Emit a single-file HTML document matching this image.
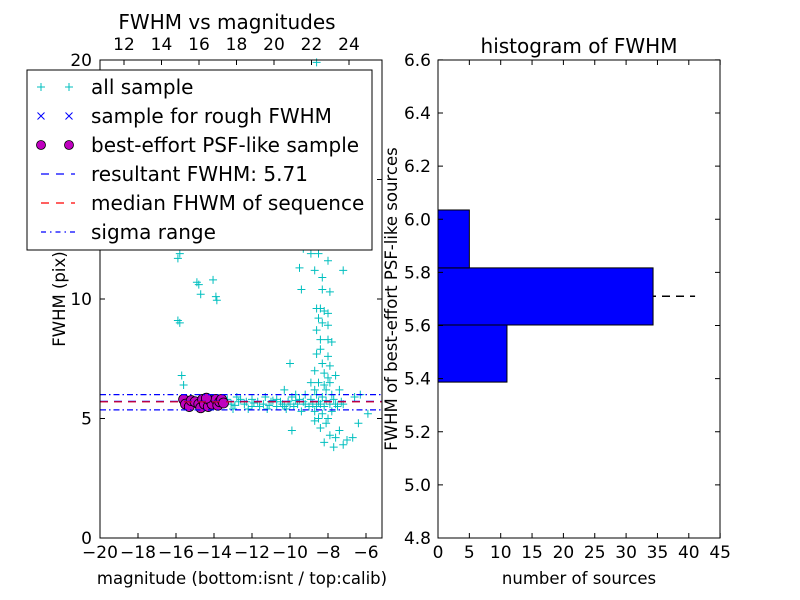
<!DOCTYPE html>
<html><head><meta charset="utf-8"><style>
body{margin:0;background:#fff}
svg{display:block;font-family:"DejaVu Sans","Liberation Sans",sans-serif}
</style></head><body>
<svg id="c" width="800" height="600" viewBox="0 0 800 600"></svg>
<script>
const allSample=[[-15.9,11.7],[-15.8,11.9],[-15.9,9.1],[-15.8,9.0],[-15.7,6.8],[-15.6,6.4],[-14.9,10.7],[-14.8,10.6],[-14.7,10.2],[-14.05,10.8],[-13.9,10.1],[-13.85,9.95],
[-8.6,19.9],[-8.8,18.5],[-8.5,17.2],[-8.9,15.0],[-8.3,14.6],[-8.7,13.5],[-8.4,13.3],[-8.0,13.1],[-8.6,12.8],[-7.5,12.9],[-9.6,12.4],[-9.3,12.1],[-8.9,11.9],[-8.5,11.9],[-8.0,11.6],
[-9.5,11.3],[-8.7,11.2],[-8.3,10.9],[-7.2,11.2],[-8.3,10.4],[-9.4,10.4],[-7.9,10.3],[-8.6,9.6],[-8.4,9.6],[-8.2,9.5],[-8.0,9.4],[-8.5,9.2],[-8.3,9.0],[-8.0,8.9],[-8.6,8.7],[-8.4,8.3],
[-8.0,8.3],[-7.8,8.2],[-8.4,7.9],[-8.6,7.7],[-8.0,7.6],[-8.3,7.3],[-7.9,7.2],[-10.0,7.3],[-8.7,7.0],[-8.2,6.9],[-8.0,6.7],[-7.6,6.8],[-8.9,6.5],[-8.5,6.5],[-8.2,6.4],[-7.9,6.5],
[-7.4,6.2],[-10.3,6.2],[-8.7,6.2],[-8.1,6.2],[-9.7,6.0],[-9.2,6.0],[-8.6,6.0],[-8.3,5.9],[-7.8,6.0],[-12.8,5.9],[-12.0,5.8],[-11.3,5.9],[-10.7,5.8],[-9.9,5.9],[-9.5,5.8],
[-13.4,5.7],[-13.1,5.6],[-12.7,5.7],[-12.4,5.6],[-12.0,5.5],[-11.7,5.7],[-11.4,5.6],[-11.0,5.7],[-10.7,5.5],[-10.4,5.6],[-10.1,5.7],[-9.8,5.5],[-9.6,5.6],[-9.3,5.7],[-9.0,5.5],
[-8.8,5.6],[-8.5,5.7],[-8.2,5.5],[-7.9,5.6],[-7.6,5.6],[-7.3,5.7],[-13.0,5.4],[-12.2,5.4],[-11.2,5.4],[-10.2,5.4],[-9.4,5.3],[-8.7,5.3],[-8.3,5.2],[-8.0,5.0],[-7.8,5.3],
[-13.3,5.8],[-12.9,5.55],[-12.6,5.8],[-12.3,5.7],[-11.9,5.65],[-11.6,5.5],[-11.1,5.55],[-10.9,5.75],[-10.5,5.7],[-10.3,5.5],[-10.0,5.6],[-9.7,5.75],[-9.2,5.6],[-8.9,5.8],[-8.6,5.5],[-8.4,5.6],[-8.1,5.75],[-7.7,5.8],[-7.5,5.5],[-7.2,5.6],
[-9.9,4.5],[-8.7,4.9],[-8.4,4.6],[-8.1,4.8],[-7.9,4.3],[-7.6,4.2],[-7.4,4.5],[-7.0,4.1],[-6.7,4.2],[-8.2,4.0],[-7.7,3.8],[-8.5,5.0],[-7.2,3.9],[-6.4,4.8],[-6.3,6.0],[-6.6,5.9],[-5.9,5.2]];
const psfSample=[[-15.6,5.8],[-15.5,5.6],[-15.3,5.5],[-15.2,5.75],[-15.0,5.7],[-14.8,5.6],[-14.7,5.45],[-14.6,5.8],[-14.5,5.6],[-14.3,5.5],[-14.2,5.75],[-14.1,5.6],[-13.9,5.8],[-13.8,5.55],[-13.7,5.7],[-13.6,5.8],[-14.4,5.85],[-13.5,5.65]];
const histBins=[5.387,5.602,5.817,6.035];
const histCounts=[11,34.3,5];
const resultFWHM=5.71, medianFWHM=5.70, sigmaLo=5.36, sigmaHi=6.0;
const yTicksL=[0,5,10,15,20], xTicksL=[-20,-18,-16,-14,-12,-10,-8,-6], xTicksTop=[12,14,16,18,20,22,24];
const yTicksR=[4.8,5.0,5.2,5.4,5.6,5.8,6.0,6.2,6.4,6.6], xTicksR=[0,5,10,15,20,25,30,35,40,45];

const svg=document.getElementById('c');const NS='http://www.w3.org/2000/svg';
function el(t,a,p){const e=document.createElementNS(NS,t);for(const k in a)e.setAttribute(k,a[k]);(p||svg).appendChild(e);return e;}
function tx(s,x,y,a,p){const e=el('text',Object.assign({x:x,y:y,'font-size':17,fill:'#000'},a),p);e.textContent=s;return e;}
const xL=v=>100+(v+20)*19, yL=v=>538-v*23.9, xT=v=>100+(v-10.72)*18.75;
const gl=el('g',{});
el('rect',{x:100,y:60,width:282,height:478,fill:'#fff'},gl);
const pts=el('g',{},gl);
allSample.forEach(p=>{const x=xL(p[0]),y=yL(p[1]);el('path',{d:`M${x-4} ${y}H${x+4}M${x} ${y-4}V${y+4}`,stroke:'#00bfbf','stroke-width':1},pts);});
const ps=el('g',{},gl);
psfSample.forEach(p=>{el('circle',{cx:xL(p[0]),cy:yL(p[1]),r:5,fill:'#bf00bf',stroke:'#000','stroke-width':0.8},ps);});
const rl=el('line',{x1:100,x2:382,y1:yL(resultFWHM),y2:yL(resultFWHM),stroke:'#0000ff','stroke-width':1.5,'stroke-dasharray':'8 6'},gl);

const ml=el('line',{x1:100,x2:382,y1:yL(medianFWHM),y2:yL(medianFWHM),stroke:'#ff0000','stroke-width':1.5,'stroke-dasharray':'8 6',opacity:0.7},gl);

[sigmaLo,sigmaHi].forEach(v=>{const s=el('line',{x1:100,x2:382,y1:yL(v),y2:yL(v),stroke:'#0000ff','stroke-width':1.2,'stroke-dasharray':'6 3 1.5 3'},gl);
});
el('rect',{x:100,y:60,width:282,height:478,fill:'none',stroke:'#000'},gl);
yTicksL.forEach(v=>{const y=yL(v);el('path',{d:`M100 ${y}h5M382 ${y}h-5`,stroke:'#000'},gl);tx(String(v),92,y+6,{'text-anchor':'end'},gl);});
xTicksL.forEach(v=>{const x=xL(v);el('path',{d:`M${x} 538v-5`,stroke:'#000'},gl);tx(String(v).replace('-','\u2212'),x,558,{'text-anchor':'middle'},gl);});
xTicksTop.forEach(v=>{const x=xT(v);el('path',{d:`M${x} 60v5`,stroke:'#000'},gl);tx(String(v),x,50,{'text-anchor':'middle'},gl);});
const t1=tx('FWHM vs magnitudes',227,29,{'text-anchor':'middle','font-size':20},gl);
const xl1=tx('magnitude (bottom:isnt / top:calib)',242,584,{'text-anchor':'middle','font-size':16.5},gl);
const yl1=tx('FWHM (pix)',65,299,{'text-anchor':'middle','font-size':16.5,transform:'rotate(-90 65 299)'},gl);
const lg=el('g',{});
el('rect',{x:27,y:70,width:345,height:180,fill:'#fff',stroke:'#000'},lg);
const items=['all sample','sample for rough FWHM','best-effort PSF-like sample','resultant FWHM: 5.71','median FHWM of sequence','sigma range'];
items.forEach((s,i)=>{const y=87+i*29;const g=el('g',{},lg);
[41,69].forEach(x=>{
if(i==0)el('path',{d:`M${x-4} ${y}H${x+4}M${x} ${y-4}V${y+4}`,stroke:'#00bfbf'},g);
if(i==1)el('path',{d:`M${x-3.5} ${y-3.5}L${x+3.5} ${y+3.5}M${x-3.5} ${y+3.5}L${x+3.5} ${y-3.5}`,stroke:'#0000ff'},g);
if(i==2)el('circle',{cx:x,cy:y,r:4.5,fill:'#bf00bf',stroke:'#000','stroke-width':0.8},g);});
if(i>=3)el('line',{x1:41,x2:75,y1:y,y2:y,stroke:i==4?'#ff0000':'#0000ff','stroke-width':1.2,'stroke-dasharray':i==5?'5 4 1.5 4':'8 7'},g);
tx(s,91,y+7,{'font-size':20},g);});
const xR=v=>438+v*6.27, yR=v=>538-(v-4.8)*265.6;
const gr=el('g',{});
const hl=el('line',{x1:438,x2:xR(41),y1:yR(resultFWHM),y2:yR(resultFWHM),stroke:'#000','stroke-width':1.5,'stroke-dasharray':'8 6'},gr);

histCounts.forEach((c,i)=>{const r=el('rect',{x:438,y:yR(histBins[i+1]),width:xR(c)-438,height:yR(histBins[i])-yR(histBins[i+1]),fill:'#0000ff',stroke:'#000'},gr);
});
el('rect',{x:438,y:60,width:282,height:478,fill:'none',stroke:'#000'},gr);
yTicksR.forEach(v=>{const y=yR(v);el('path',{d:`M438 ${y}h5M720 ${y}h-5`,stroke:'#000'},gr);tx(v.toFixed(1),431,y+6,{'text-anchor':'end'},gr);});
xTicksR.forEach(v=>{const x=xR(v);el('path',{d:`M${x} 538v-5M${x} 60v5`,stroke:'#000'},gr);tx(String(v),x,558,{'text-anchor':'middle'},gr);});
const t2=tx('histogram of FWHM',579,53,{'text-anchor':'middle','font-size':20},gr);
const xl2=tx('number of sources',579,584,{'text-anchor':'middle','font-size':16.5},gr);
const yl2=tx('FWHM of best-effort PSF-like sources',397,299,{'text-anchor':'middle','font-size':16.5,transform:'rotate(-90 397 299)'},gr);
</script></body></html>
